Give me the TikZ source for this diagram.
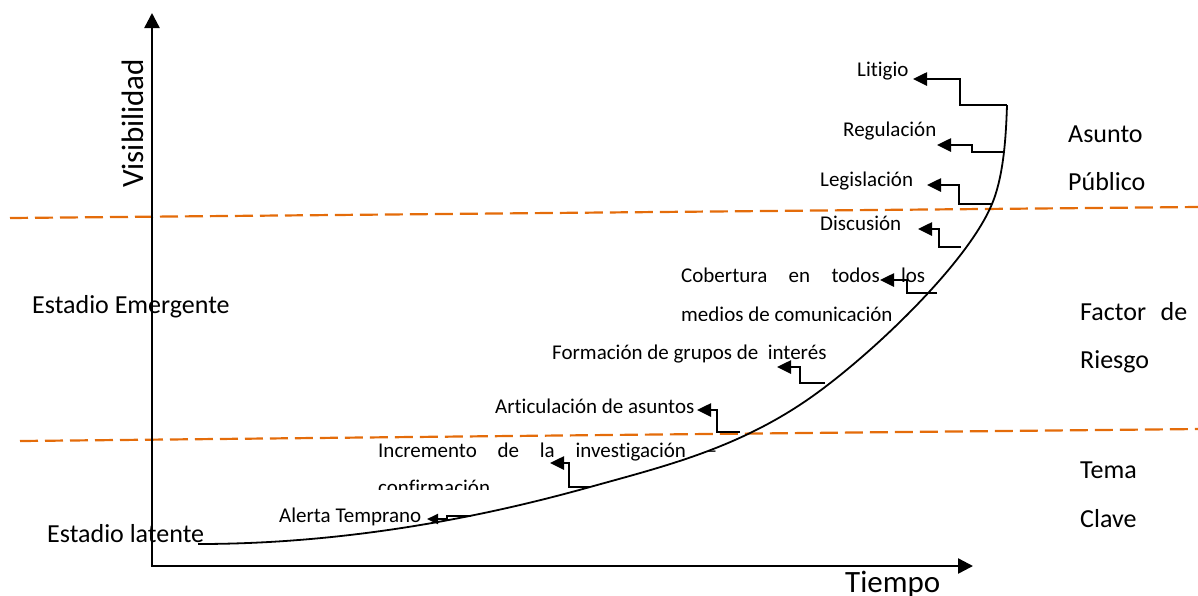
\documentclass[tikz,border=0pt]{standalone}
\usepackage{fontspec}
\setmainfont[Ligatures={NoCommon,NoRare,NoDiscretionary}]{Carlito}
\usetikzlibrary{arrows.meta}
\definecolor{dashorange}{RGB}{228,108,10}
\newcommand{\fsmall}{\fontsize{21}{25}\selectfont}
\newcommand{\fmed}{\fontsize{26}{31}\selectfont}
\newcommand{\fbig}{\fontsize{31}{37}\selectfont}
\begin{document}
\begin{tikzpicture}[x=1pt,y=-1pt,
  lbl/.style={anchor=base west, inner sep=0pt, font=\fsmall},
  zone/.style={anchor=base west, inner sep=0pt, font=\fmed},
  axislbl/.style={anchor=base west, inner sep=0pt, font=\fbig},
  axisline/.style={line width=2.4pt, -{Triangle[length=15pt,width=15pt]}},
  stair/.style={line width=2.6pt, -{Triangle[length=14pt,width=13pt]}},
  smallstair/.style={line width=2.2pt, -{Triangle[length=11pt,width=10pt]}},
  zoneline/.style={dashorange, line width=2.2pt, dash pattern=on 18pt off 7pt},
  curveline/.style={line width=1.8pt}]
\useasboundingbox (0,0) rectangle (1198,595);

% zone boundaries
\coordinate (zA1) at (10,218);
\coordinate (zA2) at (1198,207);
\coordinate (zB1) at (20,441);
\coordinate (zB2) at (1198,429);
\draw[zoneline] (zA1) -- (zA2);
\draw[zoneline] (zB1) -- (zB2);

% labels
\node[lbl] (litigio) at (857,76) {Litigio};
\node[lbl] (regul) at (843,136) {Regulación};
\node[lbl] (legis) at (820,186) {Legislación};
\node[lbl] (discu) at (820,230) {Discusión};
\node[lbl] (cob1) at (681,282) {\makebox[244pt][s]{Cobertura en todos los}};
\begin{scope}
  \clip (670,295) rectangle (940,320);
  \node[lbl] (cob2) at (681,321) {medios de comunicación};
\end{scope}
\node[lbl] (forma) at (552,359) {Formación de grupos de\ \ interés};
\node[lbl] (artic) at (495,413) {Articulación de asuntos};
\node[lbl] (incr1) at (378,457) {\makebox[339pt][s]{Incremento de la investigación –}};
\begin{scope}
  \clip (370,470) rectangle (730,489.5);
  \node[lbl] (incr2) at (378,494) {confirmación};
\end{scope}
\node[lbl] (alerta) at (279,522) {Alerta Temprano};

\node[zone] (latente) at (47,542) {Estadio latente};
\node[zone] (emerg) at (32,313) {Estadio Emergente};
\node[zone] (asunto) at (1068,142) {Asunto};
\node[zone] (publico) at (1068,190) {Público};
\node[zone] (factor) at (1080,320) {\makebox[107pt][s]{Factor de}};
\node[zone] (riesgo) at (1080,368) {Riesgo};
\node[zone] (tema) at (1080,478) {Tema};
\node[zone] (clave) at (1080,527) {Clave};

\node[axislbl, rotate=90] (visib) at (143,188) {Visibilidad};
\node[axislbl] (tiempo) at (845,592) {Tiempo};

% axes
\coordinate (O) at (152,566);
\coordinate (ytip) at (152,13);
\coordinate (xtip) at (973,566);
\draw[axisline] (O) -- (ytip);
\draw[axisline] ([xshift=-1.2pt]O) -- (xtip);

% issue life-cycle curve
\coordinate (c0) at (198,544);
\coordinate (c1) at (590,487);
\coordinate (c2) at (810,398);
\coordinate (c3) at (992,204);
\coordinate (c4) at (1007,105);
\draw[curveline] (c0) .. controls (328,544) and (460,523.4) .. (c1)
  .. controls (663,466.6) and (737,449) .. (c2)
  .. controls (870,356) and (967,264) .. (c3)
  .. controls (1004,175) and (1006,135) .. (c4);

% stair arrows
\coordinate (sLit) at (1007,105);  \coordinate (tLit) at (913,79);
\coordinate (sReg) at (1005,152);  \coordinate (tReg) at (937,145);
\coordinate (sLeg) at (992,204);   \coordinate (tLeg) at (927,185);
\coordinate (sDis) at (961,247);   \coordinate (tDis) at (918,229);
\coordinate (sCob) at (937,293);   \coordinate (tCob) at (880,280);
\coordinate (sFor) at (825,383);   \coordinate (tFor) at (777,367);
\coordinate (sArt) at (740,432);   \coordinate (tArt) at (697,410);
\coordinate (sInc) at (590,487);   \coordinate (tInc) at (550,463);
\coordinate (sAle) at (471,516);   \coordinate (tAle) at (427,519);

\draw[stair] (sLit) -- ++(-47,0) |- (tLit);
\draw[stair] (sReg) -- ++(-33,0) |- (tReg);
\draw[stair] (sLeg) -- ++(-33,0) |- (tLeg);
\draw[stair] (sDis) -- ++(-22,0) |- (tDis);
\draw[stair] (sCob) -- ++(-30,0) |- (tCob);
\draw[stair] (sFor) -- ++(-25,0) |- (tFor);
\draw[stair] (sArt) -- ++(-23,0) |- (tArt);
\draw[stair] (sInc) -- ++(-21,0) |- (tInc);
\draw[smallstair] (sAle) -- ++(-24,0) |- (tAle);
\end{tikzpicture}
\end{document}
